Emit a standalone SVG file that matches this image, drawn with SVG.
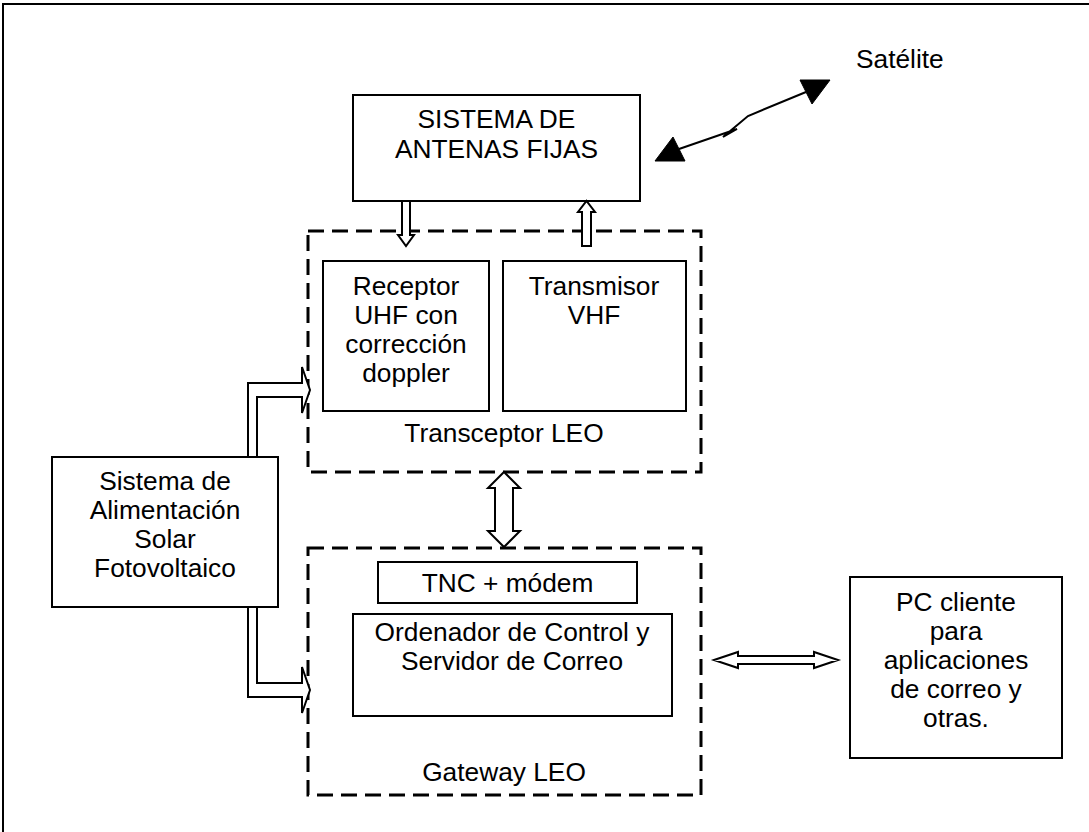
<svg xmlns="http://www.w3.org/2000/svg" width="1089" height="832" viewBox="0 0 1089 832">
  <style>
    .box { fill: #fff; stroke: #000; stroke-width: 2; }
    .group { fill: none; stroke: #000; stroke-width: 3; stroke-dasharray: 16 8; }
    .blk { fill: #fff; stroke: #000; stroke-width: 2; stroke-linejoin: miter; }
    .wire { fill: none; stroke: #000; stroke-width: 2; }
    .head { fill: #000; stroke: #000; stroke-width: 1; }
    text { font-family: "Liberation Sans", Arial, sans-serif; font-size: 26.3px; fill: #000; }
    .c { text-anchor: middle; }
  </style>

  <!-- page frame -->
  <path class="wire" d="M3,832 V4 H1089"/>

  <g id="satelite">
    <text x="856" y="68">Satélite</text>
  </g>

  <g id="antenas">
    <rect class="box" x="353" y="95" width="287" height="106"/>
    <text class="c" x="496.5" y="128">SISTEMA DE</text>
    <text class="c" x="496.5" y="158">ANTENAS FIJAS</text>
  </g>

  <g id="transceptor">
    <rect class="group" x="308" y="231" width="393" height="241"/>
    <text class="c" x="504" y="442">Transceptor LEO</text>
  </g>

  <g id="receptor">
    <rect class="box" x="323" y="261" width="166" height="150"/>
    <text class="c" x="406" y="295">Receptor</text>
    <text class="c" x="406" y="324">UHF con</text>
    <text class="c" x="406" y="353">corrección</text>
    <text class="c" x="406" y="382">doppler</text>
  </g>

  <g id="transmisor">
    <rect class="box" x="503" y="261" width="183" height="150"/>
    <text class="c" x="594" y="295">Transmisor</text>
    <text class="c" x="594" y="324">VHF</text>
  </g>

  <g id="alimentacion">
    <rect class="box" x="52" y="457" width="226" height="150"/>
    <text class="c" x="165" y="490">Sistema de</text>
    <text class="c" x="165" y="519">Alimentación</text>
    <text class="c" x="165" y="548">Solar</text>
    <text class="c" x="165" y="577">Fotovoltaico</text>
  </g>

  <g id="gateway">
    <rect class="group" x="308" y="548" width="393" height="247"/>
    <text class="c" x="504" y="781">Gateway LEO</text>
  </g>

  <g id="tnc">
    <rect class="box" x="378" y="562" width="259" height="41"/>
    <text class="c" x="507.5" y="592">TNC + módem</text>
  </g>

  <g id="ordenador">
    <rect class="box" x="353" y="614" width="319" height="102"/>
    <text class="c" x="512" y="641">Ordenador de Control y</text>
    <text class="c" x="512" y="670">Servidor de Correo</text>
  </g>

  <g id="pc">
    <rect class="box" x="850" y="577" width="212" height="181"/>
    <text class="c" x="956" y="611">PC cliente</text>
    <text class="c" x="956" y="640">para</text>
    <text class="c" x="956" y="669">aplicaciones</text>
    <text class="c" x="956" y="698">de correo y</text>
    <text class="c" x="956" y="727">otras.</text>
  </g>

  <g id="connectors">
    <!-- radio link with zigzag -->
    <polyline class="wire" points="806,92 748,116 723,137 737,129 679,149"/>
    <polygon class="head" points="830,80 800,80 812,104"/>
    <polygon class="head" points="655,161 685,161 673,137"/>

    <!-- antennas to receiver -->
    <polygon class="blk" points="402,201 402,235 398,235 406,246 414,235 410,235 410,201"/>
    <!-- transmitter to antennas -->
    <polygon class="blk" points="582,246 582,212 578,212 586.5,201 595,212 591,212 591,246"/>

    <!-- transceiver <-> gateway -->
    <polygon class="blk" points="504,472 520,488 513,488 513,531 520,531 504,547 488,531 495,531 495,488 488,488"/>

    <!-- gateway <-> client PC -->
    <polygon class="blk" points="714,660 738,652 738,656 814,656 814,652 838,660 814,668 814,664 738,664 738,668"/>

    <!-- power feed to transceiver -->
    <polygon class="blk" points="248,457 248,383 302,383 302,367 310,390 302,413 302,397 257,397 257,457"/>
    <!-- power feed to gateway -->
    <polygon class="blk" points="248,607 248,697 302,697 302,713 310,690 302,667 302,683 257,683 257,607"/>
  </g>
</svg>
